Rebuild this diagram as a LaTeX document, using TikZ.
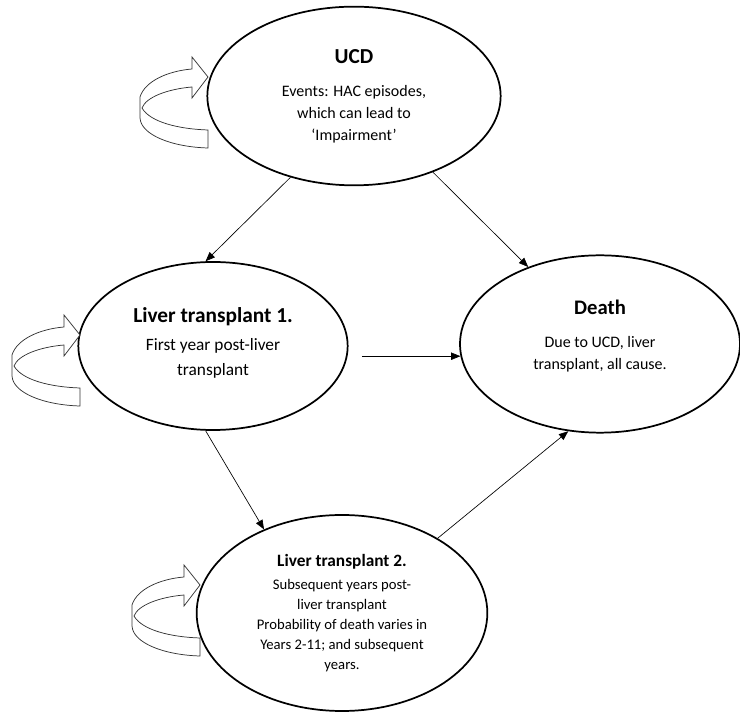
\documentclass[tikz,border=0pt]{standalone}
\usepackage{fontspec}
\setmainfont{Carlito}
\usetikzlibrary{shapes.geometric}
\usetikzlibrary{arrows.meta}
\usetikzlibrary{positioning}
\newcommand{\loopicon}[1]{
  \draw[icon, shift={(#1)}] (-16,-8) -- (-16,-20) -- (0,0) -- (-16,21) -- (-16,10)
    .. controls (-40,12) and (-62,20) .. (-66,31)
    .. controls (-58,45) and (-30,52) .. (0,53) -- (0,71)
    .. controls (-36,70) and (-67,58) .. (-68,41) -- (-68,20)
    .. controls (-63,4) and (-40,-6) .. (-16,-8) -- cycle;
}
\newcommand{\statetitle}[2]{{\fontsize{#1}{#1}\selectfont\bfseries #2}}

\begin{document}
\begin{tikzpicture}[x=0.75pt, y=-0.75pt,
    state/.style={ellipse, draw, line width=1.3pt, inner sep=0pt, align=center},
    arr/.style={-{Triangle[length=7pt,width=5.5pt]}, line width=0.5pt},
    icon/.style={draw=black!80, fill=white, line width=0.55pt}]
    \useasboundingbox (0,0) rectangle (740,712);

    \node[state, minimum width=220pt, minimum height=134pt, font=\fontsize{12}{16.5}\selectfont] (ucd) at (354,96)
        {\statetitle{16}{UCD}\\[8pt] Events: HAC episodes,\\ which can lead to\\ `Impairment'};
    \node[state, minimum width=202pt, minimum height=126pt, font=\fontsize{13}{19}\selectfont] (lt1) at (213,346)
        {\statetitle{16}{Liver transplant 1.}\\[2pt] First year post-liver\\ transplant\rule[-7pt]{0pt}{0pt}};
    \node[state, minimum width=210pt, minimum height=133pt, font=\fontsize{12}{16.5}\selectfont] (death) at (600,344)
        {\statetitle{15.5}{Death}\\[8pt] Due to UCD, liver\\ transplant, all cause.\rule[-14pt]{0pt}{0pt}};
    \node[state, minimum width=218pt, minimum height=147pt, font=\fontsize{11}{15}\selectfont] (lt2) at (342,613)
        {\statetitle{13}{Liver transplant 2.}\\[2pt] Subsequent years post-\\ liver transplant\\ Probability of death varies in\\ Years 2-11; and subsequent\\ years.};

    \draw[arr] (ucd.232) -- (lt1.95);
    \draw[arr] (ucd.316) -- (death.133);
    \draw[arr] ([xshift=10pt]lt1.east |- death.185) -- (death.185);
    \draw[arr] (lt1.265) -- (lt2.133);
    \draw[arr] (lt2.38) -- (death.250);

    \loopicon{208,77}
    \loopicon{80,335}
    \loopicon{200,585}
\end{tikzpicture}
\end{document}
